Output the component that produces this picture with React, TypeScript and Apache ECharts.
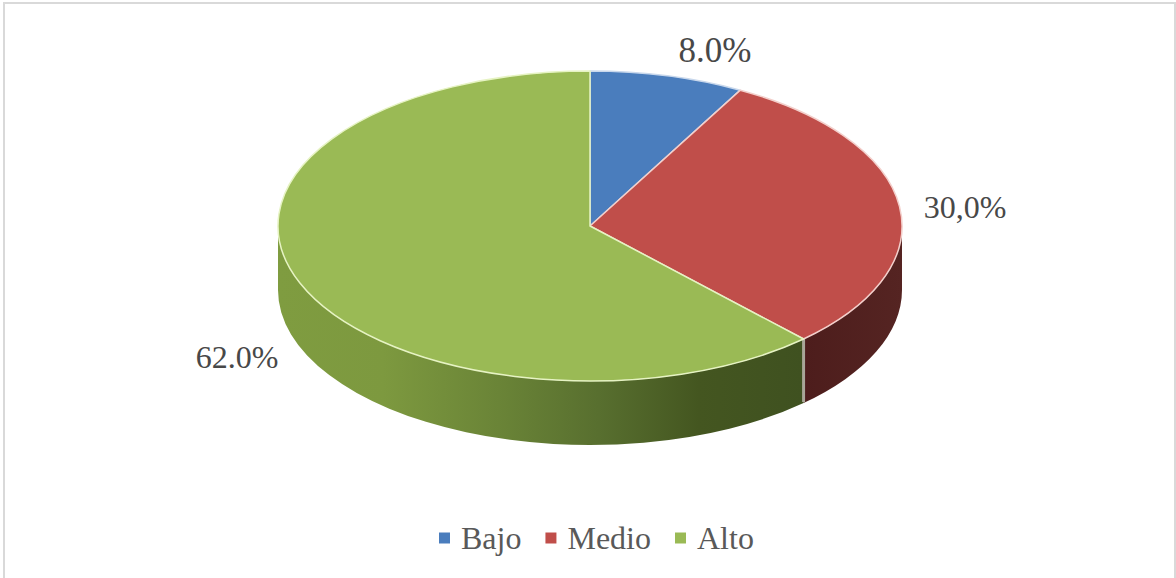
import React, { useEffect, useRef } from "react";
import * as echarts from "echarts";

const categories = ["Bajo", "Medio", "Alto"];
const values = [8, 30, 62];
const labels = ["8.0%", "30,0%", "62.0%"];
const topColors = ["#4a7dbd", "#c04e4a", "#9aba55"];

// layout
const CX = 590;
const CY = 226;
const RX = 312;
const RY = 155;
const DEPTH = 64;
const rimColors = ["#c9d8ec", "#f3cfcb", "#e6f3c3"];
const labelAnchors = [
  [715, 50],
  [965, 207],
  [237, 357],
];

const total = values.reduce((a, b) => a + b, 0);
const pt = (deg: number, dy = 0) => {
  const t = (deg * Math.PI) / 180;
  return [CX + RX * Math.sin(t), CY - RY * Math.cos(t) + dy];
};

const sideFill = (i: number) =>
  i === 1
    ? new echarts.graphic.LinearGradient(0, 0, 1, 0, [
        { offset: 0, color: "#4d1d1c" },
        { offset: 1, color: "#552422" },
      ])
    : new echarts.graphic.LinearGradient(0, 0, 1, 0, [
        { offset: 0, color: "#7f9c40" },
        { offset: 0.2, color: "#7d993f" },
        { offset: 0.42, color: "#6a8437" },
        { offset: 0.61, color: "#586f2f" },
        { offset: 0.8, color: "#445620" },
        { offset: 1, color: "#3f5120" },
      ]);

const renderSlice = (i: number) => (_p: any, api: any) => {
  const v = api.value(0);
  const before = values.slice(0, i).reduce((a, b) => a + b, 0);
  const a0 = (before / total) * 360;
  const a1 = ((before + v) / total) * 360;
  const [x0, y0] = pt(a0);
  const [x1, y1] = pt(a1);
  const large = a1 - a0 > 180 ? 1 : 0;
  const children: any[] = [];

  const s0 = Math.max(a0, 90);
  const s1 = Math.min(a1, 270);
  if (s1 > s0) {
    const [sx0, sy0] = pt(s0);
    const [sx1, sy1] = pt(s1);
    children.push({
      type: "path",
      z2: 1,
      shape: {
        pathData: `M${sx0} ${sy0}A${RX} ${RY} 0 0 1 ${sx1} ${sy1}L${sx1} ${sy1 + DEPTH}A${RX} ${RY} 0 0 0 ${sx0} ${sy0 + DEPTH}Z`,
      },
      style: { fill: sideFill(i) },
    });
  }
  if (i === 2) {
    children.push({
      type: "line",
      z2: 2,
      shape: { x1: x0, y1: y0, x2: x0, y2: y0 + DEPTH - 1 },
      style: { stroke: "#a9a698", lineWidth: 3 },
    });
  }
  children.push({
    type: "path",
    z2: 3,
    shape: {
      pathData: `M${CX} ${CY}L${x0} ${y0}A${RX} ${RY} 0 ${large} 1 ${x1} ${y1}Z`,
    },
    style: { fill: topColors[i], stroke: rimColors[i], lineWidth: 1.5, lineJoin: "round" },
  });
  children.push({
    type: "text",
    z2: 4,
    style: {
      text: labels[i],
      x: labelAnchors[i][0],
      y: labelAnchors[i][1],
      fill: "#484848",
      font: i === 0 ? '35px "Liberation Serif"' : '32px "Liberation Serif"',
      textAlign: "center",
      textVerticalAlign: "middle",
    },
  });
  return { type: "group", children };
};

export default function App() {
  const ref = useRef<HTMLDivElement>(null);
  useEffect(() => {
    const chart = echarts.init(ref.current!, null, { renderer: "svg" });
    chart.setOption({
      animation: false,
      backgroundColor: "#ffffff",
      graphic: [
        {
          type: "rect",
          silent: true,
          shape: { x: 4, y: 3, width: 1171, height: 620 },
          style: { fill: "none", stroke: "#d9d9d9", lineWidth: 2 },
        },
      ],
      legend: {
        data: categories,
        left: 439,
        top: 522,
        padding: 0,
        itemWidth: 11,
        itemHeight: 11,
        itemGap: 24,
        icon: "rect",
        selectedMode: false,
        textStyle: {
          fontFamily: "Liberation Serif",
          fontSize: 32,
          color: "#595959",
          padding: [0, 0, 0, 6],
        },
      },
      series: categories.map((name, i) => ({
        type: "custom",
        name,
        coordinateSystem: "none",
        itemStyle: { color: topColors[i] },
        data: [[values[i]]],
        renderItem: renderSlice(i),
      })),
    });
    return () => chart.dispose();
  }, []);
  return (
    <div
      ref={ref}
      style={{ position: "absolute", left: 0, top: 0, width: 1176, height: 578 }}
    />
  );
}
